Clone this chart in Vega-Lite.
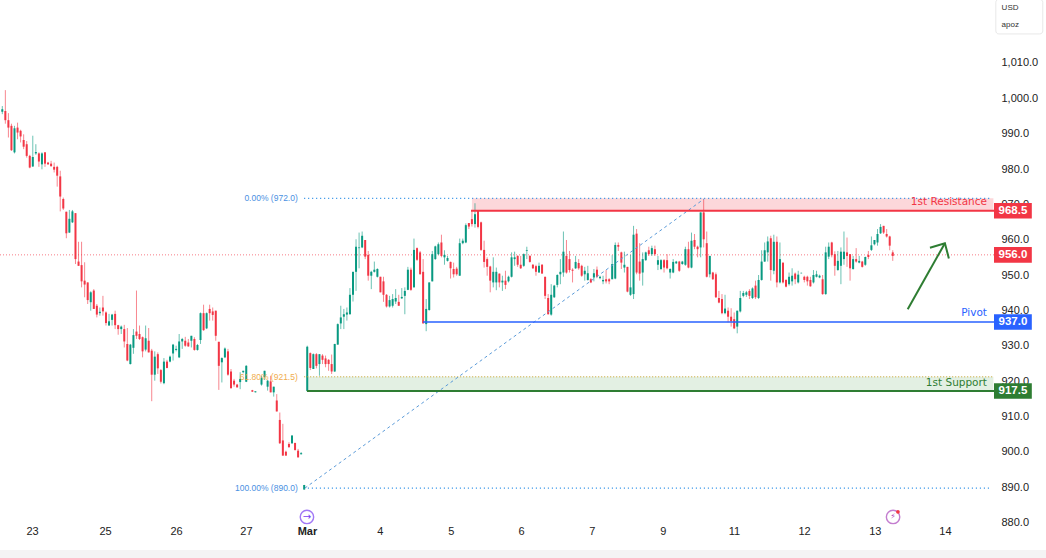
{"$schema":"https://vega.github.io/schema/vega-lite/v6.json","width":994,"height":550,"autosize":{"type":"none"},"padding":{"left":0,"top":0,"right":52,"bottom":8},"background":"#ffffff","config":{"view":{"stroke":null},"text":{"font":"Liberation Sans"}},
"datasets":{"candles":[
{"t":0,"h":998.1,"o":996.5,"c":997.2,"l":995.8},{"t":1,"h":1002.6,"o":996.7,"c":994.1,"l":993.1},{"t":2,"h":996.1,"o":994.1,"c":992,"l":989.2},{"t":3,"h":993.1,"o":992.5,"c":985.6,"l":985.4},{"t":4,"h":992.5,"o":985,"c":991.8,"l":984.7},{"t":5,"h":993.4,"o":992,"c":990.6,"l":988.7},{"t":6,"h":991.4,"o":991.1,"c":989.5,"l":987.8},{"t":7,"h":990.1,"o":988.5,"c":986.6,"l":985.9},{"t":8,"h":988.2,"o":987.3,"c":984,"l":983.5},{"t":9,"h":984.3,"o":984,"c":980.7,"l":980.5},
{"t":10,"h":989.7,"o":981,"c":983.7,"l":980.9},{"t":11,"h":987.3,"o":984.7,"c":985.1,"l":984.3},{"t":12,"h":985,"o":984.7,"c":982.4,"l":980.9},{"t":13,"h":985,"o":981.6,"c":984.7,"l":980.2},{"t":14,"h":985.1,"o":985,"c":981.8,"l":980.9},{"t":15,"h":982.3,"o":982.1,"c":981.6,"l":981.5},{"t":16,"h":982.6,"o":981.8,"c":981.1,"l":980.9},{"t":17,"h":982.1,"o":980.9,"c":980.1,"l":979.3},{"t":18,"h":981.2,"o":980.9,"c":978.4,"l":975.3},{"t":19,"h":979.8,"o":978.2,"c":972.5,"l":968.3},
{"t":20,"h":972.2,"o":971.8,"c":969.1,"l":968.7},{"t":21,"h":968.2,"o":968.2,"c":962.1,"l":960.7},{"t":22,"h":968.7,"o":962.3,"c":966.2,"l":962.2},{"t":23,"h":968.7,"o":965.2,"c":968.3,"l":965},{"t":24,"h":967.8,"o":967.8,"c":954.8,"l":953.4},{"t":25,"h":959.7,"o":954.1,"c":952.9,"l":952.9},{"t":26,"h":959.7,"o":953.1,"c":948.5,"l":946.8},{"t":27,"h":953.9,"o":948.7,"c":947.6,"l":944},{"t":28,"h":948.2,"o":948.2,"c":943.2,"l":942.1},{"t":29,"h":945.7,"o":942.6,"c":945.4,"l":940.2},
{"t":30,"h":946.3,"o":945.9,"c":940.7,"l":940.7},{"t":31,"h":942.1,"o":941.6,"c":939.1,"l":938.3},{"t":32,"h":941.1,"o":939.5,"c":939.9,"l":938.8},{"t":33,"h":944.4,"o":941.1,"c":940,"l":938.8},{"t":34,"h":940,"o":939.7,"c":936.7,"l":936},{"t":35,"h":939.3,"o":936,"c":937.2,"l":936},{"t":36,"h":939.3,"o":937.6,"c":939.1,"l":936},{"t":37,"h":940.2,"o":939.3,"c":936.1,"l":935},{"t":38,"h":936.2,"o":936.1,"c":935,"l":933.4},{"t":39,"h":936,"o":935,"c":935.7,"l":933.6},
{"t":40,"h":936.2,"o":935,"c":931.5,"l":929.8},{"t":41,"h":935.3,"o":930.8,"c":926.1,"l":925.9},{"t":42,"h":930.8,"o":925.1,"c":930.6,"l":925},{"t":43,"h":935,"o":929.7,"c":933.3,"l":928},{"t":44,"h":945.9,"o":934.3,"c":933.1,"l":932.2},{"t":45,"h":936,"o":933.6,"c":932.2,"l":931.9},{"t":46,"h":932.9,"o":932.7,"c":928.7,"l":927},{"t":47,"h":936,"o":929.2,"c":932.4,"l":928.7},{"t":48,"h":935.3,"o":931.7,"c":928.4,"l":928.4},{"t":49,"h":929.4,"o":928.9,"c":922.1,"l":914.6},
{"t":50,"h":928.7,"o":922.1,"c":927.2,"l":920.4},{"t":51,"h":928.4,"o":927.9,"c":923.9,"l":922.3},{"t":52,"h":923.7,"o":923.4,"c":920.1,"l":919.6},{"t":53,"h":926.8,"o":919.7,"c":925.8,"l":919.4},{"t":54,"h":926.3,"o":925.8,"c":924,"l":923.9},{"t":55,"h":927.5,"o":925.8,"c":927.2,"l":925.6},{"t":56,"h":930.8,"o":928.1,"c":930.6,"l":926.1},{"t":57,"h":930.3,"o":929.1,"c":929.4,"l":928.7},{"t":58,"h":933.6,"o":927,"c":931.5,"l":926.8},{"t":59,"h":932.5,"o":931.5,"c":932.2,"l":929.4},
{"t":60,"h":932.8,"o":931.7,"c":930.3,"l":930},{"t":61,"h":932.2,"o":931.2,"c":930.1,"l":930},{"t":62,"h":933.1,"o":931.7,"c":933.1,"l":929.8},{"t":63,"h":932.7,"o":932.2,"c":929.1,"l":928.9},{"t":64,"h":930.8,"o":929.1,"c":930.5,"l":928.9},{"t":65,"h":939.7,"o":931.9,"c":939.5,"l":930.8},{"t":66,"h":941.9,"o":939.5,"c":934.7,"l":934.5},{"t":67,"h":939.7,"o":935.2,"c":939.5,"l":935},{"t":68,"h":941.9,"o":940.7,"c":939.5,"l":937.4},{"t":69,"h":941.1,"o":940,"c":939,"l":937.4},
{"t":70,"h":940.2,"o":940.2,"c":933.1,"l":931.7},{"t":71,"h":931.4,"o":931.4,"c":924.6,"l":917.8},{"t":72,"h":927,"o":925.6,"c":926.8,"l":919.9},{"t":73,"h":929.8,"o":927,"c":929.5,"l":926.8},{"t":74,"h":929.4,"o":928.7,"c":922.1,"l":921.8},{"t":75,"h":923.7,"o":923,"c":918.3,"l":918.1},{"t":76,"h":920.9,"o":920.4,"c":919.3,"l":918.7},{"t":77,"h":919.5,"o":919.3,"c":918.5,"l":918.5},{"t":78,"h":922.8,"o":920,"c":920.9,"l":918},{"t":79,"h":923.2,"o":922.8,"c":923.2,"l":922.5},
{"t":80,"h":924.8,"o":920.1,"c":924.6,"l":920},{"t":82,"h":917.8,"o":917.7,"c":917.3,"l":917.2},{"t":83,"h":917.4,"o":917.1,"c":917.4,"l":917.1},{"t":85,"h":921.8,"o":919.3,"c":921.2,"l":919},{"t":86,"h":923.2,"o":921.4,"c":923.2,"l":920.6},{"t":87,"h":920.6,"o":918.7,"c":920.4,"l":917.6},{"t":88,"h":921.8,"o":920.2,"c":917.1,"l":917.1},{"t":89,"h":918.7,"o":917.1,"c":918.7,"l":915.9},
{"t":90,"h":916.6,"o":914.8,"c":911.7,"l":911.7},{"t":91,"h":911.4,"o":909.3,"c":902.7,"l":902.5},{"t":92,"h":908.2,"o":903.5,"c":899.2,"l":899.2},{"t":93,"h":900.6,"o":900.3,"c":899.2,"l":899.2},{"t":94,"h":903,"o":902.5,"c":901.6,"l":901.4},{"t":95,"h":904.9,"o":902.7,"c":904.9,"l":902.5},{"t":96,"h":902.8,"o":902.8,"c":900.8,"l":900.6},{"t":97,"h":901.1,"o":900.6,"c":898.7,"l":898.7},{"t":98,"h":900.2,"o":899.6,"c":899.9,"l":899.5},{"t":99,"h":890.9,"o":889.6,"c":890.9,"l":889.6},
{"t":100,"h":930.3,"o":917.5,"c":930,"l":917.5},{"t":101,"h":928.4,"o":928.2,"c":924,"l":923.4},{"t":102,"h":928.1,"o":923.7,"c":927.9,"l":923.7},{"t":103,"h":928.2,"o":927.9,"c":924.6,"l":923.9},{"t":104,"h":927.9,"o":925.1,"c":927.9,"l":921.8},{"t":105,"h":927.9,"o":927.5,"c":926.3,"l":925.1},{"t":106,"h":927.5,"o":926.7,"c":925.1,"l":924.2},{"t":107,"h":926.5,"o":926.3,"c":925.1,"l":923.2},{"t":108,"h":927.8,"o":925.1,"c":923,"l":922.3},{"t":109,"h":930.8,"o":923,"c":930.8,"l":922.9},
{"t":110,"h":936.6,"o":930.6,"c":936.4,"l":930.6},{"t":111,"h":941.6,"o":936.6,"c":938.3,"l":935},{"t":112,"h":940.7,"o":938.5,"c":939.2,"l":935},{"t":113,"h":941.1,"o":939.1,"c":939.7,"l":937.4},{"t":114,"h":946.6,"o":939.2,"c":944.7,"l":939.1},{"t":115,"h":951.2,"o":944.7,"c":951.2,"l":942.8},{"t":116,"h":960.4,"o":951.2,"c":958.3,"l":945.8},{"t":117,"h":962.3,"o":957.9,"c":958.1,"l":952.2},{"t":118,"h":962.6,"o":958.1,"c":961.4,"l":957.9},{"t":119,"h":960.2,"o":960.2,"c":955.5,"l":954.8},
{"t":120,"h":957.1,"o":956,"c":950.1,"l":948.7},{"t":121,"h":951.5,"o":950.1,"c":951.2,"l":946.3},{"t":122,"h":954.1,"o":951.2,"c":951.8,"l":951},{"t":123,"h":952.2,"o":949.8,"c":952,"l":949.6},{"t":124,"h":949.8,"o":949.8,"c":945.4,"l":945.4},{"t":125,"h":949.8,"o":948.5,"c":944.7,"l":942.7},{"t":126,"h":944.9,"o":944.7,"c":941.4,"l":941.1},{"t":127,"h":944.4,"o":941.4,"c":943.2,"l":941.1},{"t":128,"h":944.9,"o":941.6,"c":943.5,"l":941.1},{"t":129,"h":946.3,"o":942.8,"c":943.8,"l":942.1},
{"t":130,"h":944.7,"o":942.7,"c":941.6,"l":941.6},{"t":131,"h":946.6,"o":943.7,"c":944.1,"l":943.5},{"t":132,"h":946.8,"o":944.4,"c":945.8,"l":939.2},{"t":133,"h":952.6,"o":946.1,"c":951.8,"l":946},{"t":134,"h":952.4,"o":951.8,"c":946.1,"l":945.8},{"t":135,"h":960.6,"o":946.8,"c":957.4,"l":946.8},{"t":136,"h":958.1,"o":957.9,"c":954.6,"l":954.3},{"t":137,"h":957.1,"o":956.7,"c":950.5,"l":950.5},{"t":138,"h":954.8,"o":951.2,"c":936.6,"l":936.6},{"t":139,"h":943.5,"o":936.4,"c":940.7,"l":934.4},
{"t":140,"h":948.2,"o":940.4,"c":948.2,"l":940.2},{"t":141,"h":957.1,"o":948.5,"c":956.2,"l":948.5},{"t":142,"h":958.6,"o":954.8,"c":958.4,"l":954.6},{"t":143,"h":959.5,"o":956.2,"c":959,"l":955.9},{"t":144,"h":961.7,"o":959.5,"c":955.7,"l":955.3},{"t":145,"h":957.3,"o":955.3,"c":956,"l":953.2},{"t":146,"h":955.7,"o":954.3,"c":955.1,"l":954.1},{"t":147,"h":954.1,"o":954,"c":952.2,"l":949.3},{"t":148,"h":953.8,"o":952,"c":950.5,"l":949.6},{"t":149,"h":952.6,"o":952.1,"c":950.5,"l":950.1},
{"t":150,"h":960.6,"o":950.1,"c":959.3,"l":950.1},{"t":151,"h":960.6,"o":959.3,"c":960,"l":959},{"t":152,"h":964.9,"o":959.5,"c":964.4,"l":959.3},{"t":153,"h":965,"o":965,"c":964,"l":963.3},{"t":154,"h":968.4,"o":966.1,"c":964.7,"l":964},{"t":155,"h":970.6,"o":964.7,"c":967.5,"l":963.7},{"t":156,"h":968.6,"o":968.5,"c":963.9,"l":963.5},{"t":157,"h":965.4,"o":965.2,"c":957.4,"l":957.1},{"t":158,"h":960,"o":957.4,"c":954,"l":952.4},{"t":159,"h":955.3,"o":954.8,"c":952.6,"l":950.1},
{"t":160,"h":952.9,"o":952.7,"c":948.7,"l":945.4},{"t":161,"h":955.3,"o":948.2,"c":951.2,"l":946.8},{"t":162,"h":952.4,"o":948.2,"c":951.2,"l":946},{"t":163,"h":950.7,"o":950.7,"c":948.2,"l":946.8},{"t":164,"h":950.1,"o":948.2,"c":948.7,"l":945.8},{"t":165,"h":951.5,"o":948.7,"c":947.5,"l":946.3},{"t":166,"h":950.1,"o":948.5,"c":949.8,"l":948.2},{"t":167,"h":956.7,"o":949.8,"c":955.3,"l":949.6},{"t":168,"h":956.9,"o":954.8,"c":955.3,"l":952.9},{"t":169,"h":955.9,"o":955.7,"c":953.2,"l":952.6},
{"t":170,"h":955.7,"o":953.2,"c":952.2,"l":952},{"t":171,"h":956.4,"o":952.9,"c":956.2,"l":952.6},{"t":172,"h":958.3,"o":957.1,"c":957.3,"l":954.8},{"t":173,"h":955.9,"o":955.7,"c":954,"l":953.8},{"t":174,"h":953.4,"o":953.2,"c":952.2,"l":952},{"t":175,"h":953.2,"o":952.8,"c":951.2,"l":950.1},{"t":176,"h":953.8,"o":951,"c":952.9,"l":951},{"t":177,"h":953.4,"o":953.2,"c":950.7,"l":950.7},{"t":178,"h":949.8,"o":949.8,"c":944.4,"l":943.5},{"t":179,"h":944.9,"o":943.8,"c":939.2,"l":939.1},
{"t":180,"h":947.7,"o":939.1,"c":944.7,"l":938.8},{"t":181,"h":947.5,"o":944,"c":947.3,"l":943.8},{"t":182,"h":950.5,"o":947.5,"c":950.3,"l":946.8},{"t":183,"h":954.8,"o":950.5,"c":951.2,"l":947.7},{"t":184,"h":962.6,"o":951,"c":956.9,"l":949.8},{"t":185,"h":960.2,"o":955.7,"c":951,"l":950.7},{"t":186,"h":957.1,"o":954.8,"c":951.7,"l":951},{"t":187,"h":952.2,"o":951.8,"c":951.5,"l":948.2},{"t":188,"h":955.7,"o":952.2,"c":954,"l":952},{"t":189,"h":954.8,"o":953.7,"c":952.2,"l":951.8},
{"t":190,"h":953.2,"o":952.9,"c":950.1,"l":949.8},{"t":191,"h":952.6,"o":950.5,"c":951.5,"l":948.7},{"t":192,"h":952.9,"o":948.9,"c":950.8,"l":948.7},{"t":193,"h":949.4,"o":949.1,"c":948.2,"l":948},{"t":194,"h":952,"o":949.6,"c":950.8,"l":948.5},{"t":195,"h":952.7,"o":951.8,"c":949.8,"l":949.4},{"t":196,"h":950.1,"o":949.4,"c":949.8,"l":949.1},{"t":197,"h":950.1,"o":948.5,"c":948.9,"l":947.7},{"t":198,"h":951.7,"o":949.1,"c":948.5,"l":947.9},{"t":199,"h":949.4,"o":949.1,"c":948.5,"l":947.7},
{"t":200,"h":955.9,"o":949.1,"c":953.4,"l":949.1},{"t":201,"h":959.5,"o":949.3,"c":958.8,"l":949.1},{"t":202,"h":959.5,"o":958.8,"c":958.3,"l":957.1},{"t":203,"h":956.9,"o":956.7,"c":953.8,"l":952},{"t":204,"h":956.9,"o":952.4,"c":953.2,"l":951},{"t":205,"h":952.6,"o":952.6,"c":945.6,"l":945.4},{"t":206,"h":956,"o":944.7,"c":946.8,"l":944.4},{"t":207,"h":964.2,"o":944.9,"c":961.7,"l":943.5},{"t":208,"h":963.3,"o":962,"c":951,"l":950.5},{"t":209,"h":959.3,"o":954.1,"c":950.7,"l":948.7},
{"t":210,"h":956.7,"o":951,"c":954.8,"l":947.3},{"t":211,"h":956.9,"o":954.5,"c":956.7,"l":954.3},{"t":212,"h":958.3,"o":957.3,"c":956.2,"l":955.7},{"t":213,"h":958.6,"o":956.2,"c":957.9,"l":955.7},{"t":214,"h":958.6,"o":957.6,"c":956.2,"l":955.7},{"t":215,"h":955.7,"o":953.2,"c":954.5,"l":951.7},{"t":216,"h":954.8,"o":952,"c":954.5,"l":951.7},{"t":217,"h":954.8,"o":954.5,"c":952.4,"l":951},{"t":218,"h":956.2,"o":954.5,"c":952.2,"l":951.9},{"t":219,"h":952.2,"o":951,"c":952,"l":949.3},
{"t":220,"h":954.8,"o":951,"c":954,"l":950.8},{"t":221,"h":954.3,"o":953.6,"c":954.1,"l":953.4},{"t":222,"h":954.3,"o":954.1,"c":951.5,"l":951.2},{"t":223,"h":954.3,"o":953.4,"c":954.1,"l":953.2},{"t":224,"h":958.3,"o":953.2,"c":957.6,"l":952.9},{"t":225,"h":959.7,"o":957.6,"c":952.4,"l":952.2},{"t":226,"h":962.3,"o":952.4,"c":960,"l":952.2},{"t":227,"h":961.9,"o":960.2,"c":958.3,"l":957.6},{"t":228,"h":958.6,"o":958.3,"c":957.6,"l":955.3},{"t":229,"h":968,"o":958.1,"c":968,"l":955.3},
{"t":230,"h":971.7,"o":968,"c":960.4,"l":958.1},{"t":231,"h":962.6,"o":959.3,"c":949.8,"l":949.6},{"t":232,"h":955.7,"o":950.5,"c":955.7,"l":949.6},{"t":233,"h":951.2,"o":951,"c":949.1,"l":948.9},{"t":234,"h":951,"o":950.5,"c":944,"l":943.8},{"t":235,"h":945.8,"o":943.8,"c":942.5,"l":942.3},{"t":236,"h":944.9,"o":943.5,"c":939.5,"l":939.2},{"t":237,"h":944.7,"o":939.5,"c":940.8,"l":939.2},{"t":238,"h":941.1,"o":940.2,"c":938.5,"l":936.9},{"t":239,"h":940.9,"o":938.5,"c":937.2,"l":935.7},
{"t":240,"h":939.7,"o":937.8,"c":935.2,"l":935},{"t":241,"h":940.2,"o":935.7,"c":940.2,"l":933.8},{"t":242,"h":945.8,"o":940,"c":943.8,"l":939.7},{"t":243,"h":945.8,"o":944.4,"c":945.2,"l":944},{"t":244,"h":945.8,"o":944.7,"c":945.4,"l":944.1},{"t":245,"h":946.3,"o":945.8,"c":944.4,"l":943.5},{"t":246,"h":946.8,"o":943.8,"c":946.5,"l":943.5},{"t":247,"h":948.7,"o":947.3,"c":944,"l":943.5},{"t":248,"h":950.3,"o":943.8,"c":948.9,"l":943.5},{"t":249,"h":957.3,"o":948.9,"c":954.1,"l":948.7},
{"t":250,"h":959.5,"o":954.1,"c":957.3,"l":954},{"t":251,"h":961.2,"o":956.7,"c":959.8,"l":954.1},{"t":252,"h":961.4,"o":960.7,"c":951.7,"l":948.7},{"t":253,"h":961.7,"o":951.5,"c":959.7,"l":950.5},{"t":254,"h":961.2,"o":959.7,"c":948.2,"l":946.8},{"t":255,"h":959.5,"o":948.2,"c":954.8,"l":947.9},{"t":256,"h":953.8,"o":953.8,"c":948.2,"l":947.9},{"t":257,"h":949.1,"o":948.9,"c":947,"l":946.8},{"t":258,"h":951,"o":947.7,"c":949.8,"l":947.3},{"t":259,"h":952.2,"o":948.5,"c":950.1,"l":947.3},
{"t":260,"h":951,"o":950.7,"c":949.1,"l":947.7},{"t":261,"h":951.5,"o":948.2,"c":950.4,"l":947.9},{"t":262,"h":951,"o":950.8,"c":950.9,"l":950.7},{"t":263,"h":950.1,"o":949.8,"c":948.9,"l":948.2},{"t":264,"h":950.1,"o":949.8,"c":948.5,"l":947.3},{"t":265,"h":949.8,"o":948.9,"c":947.1,"l":947},{"t":266,"h":951.7,"o":948.2,"c":950.3,"l":947.9},{"t":267,"h":951.5,"o":949.8,"c":950.5,"l":949.6},{"t":268,"h":950.4,"o":949.6,"c":950.1,"l":949.4},{"t":269,"h":950.3,"o":949.1,"c":944.9,"l":944.7},
{"t":270,"h":958.3,"o":944.9,"c":956.7,"l":944.7},{"t":271,"h":959.5,"o":955.5,"c":958.3,"l":954.8},{"t":272,"h":959.7,"o":959.5,"c":955.9,"l":955.3},{"t":273,"h":957,"o":956.2,"c":952.9,"l":950.1},{"t":274,"h":957.1,"o":951.7,"c":954.3,"l":951.5},{"t":275,"h":958.1,"o":952.9,"c":956.9,"l":947.7},{"t":276,"h":962.6,"o":954.8,"c":956.9,"l":953.2},{"t":277,"h":960.9,"o":956.7,"c":955.7,"l":952.6},{"t":278,"h":956.2,"o":956.2,"c":952.2,"l":948.7},{"t":279,"h":955.7,"o":952,"c":954.8,"l":951.8},
{"t":280,"h":957.9,"o":954.8,"c":954.1,"l":953.8},{"t":281,"h":955.7,"o":953.8,"c":954.3,"l":953.6},{"t":282,"h":954.3,"o":954.1,"c":952.6,"l":952.4},{"t":283,"h":955.5,"o":953.2,"c":955.4,"l":952.9},{"t":284,"h":957.1,"o":956,"c":955.4,"l":954.8},{"t":285,"h":961.2,"o":957.4,"c":958.7,"l":957.1},{"t":286,"h":960.2,"o":959,"c":960.2,"l":958.7},{"t":287,"h":963.3,"o":959.5,"c":961.9,"l":958.6},{"t":288,"h":964.7,"o":962.1,"c":963.9,"l":961.9},{"t":289,"h":964.2,"o":964.2,"c":962.3,"l":961.9},
{"t":290,"h":963.3,"o":961.9,"c":961.2,"l":960.9},{"t":291,"h":961.4,"o":961.2,"c":958.6,"l":957.3},{"t":292,"h":957.3,"o":956.7,"c":955.7,"l":954.3}
]},
"encoding":{
"x":{"field":"t","type":"quantitative","scale":{"domain":[-0.754,325.2],"nice":false,"zero":false,"padding":0},"axis":{"title":null,"grid":false,"domain":false,"ticks":false,"orient":"bottom","offset":-20,"labelPadding":1,"labelBaseline":"middle","labelFont":"Liberation Sans","labelFontSize":11,"labelColor":"#222222","labelOverlap":false,"labelFlush":false,"values":[9.74,33.7,57,79.9,99.9,123.8,147.1,170.1,193.3,216.6,239.9,262.9,286.1,309.1],"labelExpr":"['23','25','26','27','Mar','4','5','6','7','9','11','12','13','14'][indexof([9.74,33.7,57,79.9,99.9,123.8,147.1,170.1,193.3,216.6,239.9,262.9,286.1,309.1],datum.value)]","labelFontWeight":{"condition":{"test":"datum.value==99.9","value":"bold"},"value":"normal"}}},
"y":{"field":"p","type":"quantitative","scale":{"domain":[872.5,1028.1],"nice":false,"zero":false},"axis":{"title":null,"orient":"right","grid":false,"domain":false,"ticks":false,"labelPadding":7,"labelFont":"Liberation Sans","labelFontSize":11,"labelColor":"#222222","labelOverlap":false,"labelBaseline":"middle","labelOffset":-1,"format":",.1f","values":[1010,1000,990,980,970,960,950,940,930,920,910,900,890,880]}}
},
"layer":[
{"data":{"values":[{"t":154,"t1":325,"p":972,"p1":968.5}]},"mark":{"type":"rect","color":"#fcd7da"},"encoding":{"x2":{"field":"t1"},"y2":{"field":"p1"}}},
{"data":{"values":[{"t":99.9,"t1":325,"p":921.5,"p1":917.5}]},"mark":{"type":"rect","color":"#e3f0e3"},"encoding":{"x2":{"field":"t1"},"y2":{"field":"p1"}}},
{"data":{"values":[{"t":325.2,"t1":342.2,"p":879,"p1":872.5}]},"mark":{"type":"rect","color":"#ffffff"},"encoding":{"x2":{"field":"t1"},"y2":{"field":"p1"}}},
{"data":{"values":[{"t":-1,"t1":343,"p":872.5,"p1":870}]},"mark":{"type":"rect","color":"#f4f4f4"},"encoding":{"x2":{"field":"t1"},"y2":{"field":"p1"}}},
{"data":{"values":[{"t":-0.754,"t1":325.2,"p":956}]},"mark":{"type":"rule","color":"#f23645","opacity":0.65,"strokeWidth":1,"strokeDash":[1,2]},"encoding":{"x2":{"field":"t1"}}},
{"data":{"name":"candles"},"mark":{"type":"rule","strokeWidth":1,"opacity":0.6},"encoding":{"y":{"field":"h","type":"quantitative","title":null},"y2":{"field":"l"},"color":{"condition":{"test":"datum.c>=datum.o","value":"#089981"},"value":"#f23645"}}},
{"data":{"name":"candles"},"mark":{"type":"bar","size":2},"encoding":{"y":{"field":"o","type":"quantitative","title":null},"y2":{"field":"c"},"color":{"condition":{"test":"datum.c>=datum.o","value":"#089981"},"value":"#f23645"}}},
{"data":{"values":[{"t":99,"t1":324.6,"p":972},{"t":100.2,"t1":323.8,"p":890}]},"mark":{"type":"rule","color":"#1e88e5","strokeWidth":1.3,"strokeDash":[1,3]},"encoding":{"x2":{"field":"t1"}}},
{"data":{"values":[{"t":99,"t1":324.6,"p":921.5}]},"mark":{"type":"rule","color":"#c9a227","strokeWidth":1,"strokeDash":[1,2]},"encoding":{"x2":{"field":"t1"}}},
{"data":{"values":[{"t":99.2,"p":890,"n":1},{"t":230.4,"p":972,"n":2}]},"mark":{"type":"line","color":"#5b9bd9","strokeWidth":1,"strokeDash":[3,3]},"encoding":{"order":{"field":"n"}}},
{"data":{"values":[{"t":153.7,"t1":325.2,"p":968.5}]},"mark":{"type":"rule","color":"#f23645","strokeWidth":2},"encoding":{"x2":{"field":"t1"}}},
{"data":{"values":[{"t":138,"t1":325.2,"p":937}]},"mark":{"type":"rule","color":"#2962ff","strokeWidth":1.6},"encoding":{"x2":{"field":"t1"}}},
{"data":{"values":[{"t":99.9,"t1":325.2,"p":917.5}]},"mark":{"type":"rule","color":"#2e7d32","strokeWidth":2},"encoding":{"x2":{"field":"t1"}}},
{"data":{"values":[{"t":296.9,"p":940.6,"g":"shaft","n":1},{"t":309.1,"p":959.3,"g":"shaft","n":2},{"t":304.2,"p":958,"g":"head","n":1},{"t":309.1,"p":959.3,"g":"head","n":2},{"t":310.4,"p":955,"g":"head","n":3}]},"mark":{"type":"line","color":"#2e7d32","strokeWidth":2},"encoding":{"detail":{"field":"g"},"order":{"field":"n"}}},
{"data":{"values":[{"t":322.9,"p":971,"label":"1st Resistance"}]},"mark":{"type":"text","font":"DejaVu Sans","fontSize":10.5,"align":"right","baseline":"middle","color":"#f23645"},"encoding":{"text":{"field":"label"}}},
{"data":{"values":[{"t":322.9,"p":939.5,"label":"Pivot"}]},"mark":{"type":"text","font":"DejaVu Sans","fontSize":10.5,"align":"right","baseline":"middle","color":"#2962ff"},"encoding":{"text":{"field":"label"}}},
{"data":{"values":[{"t":322.9,"p":919.8,"label":"1st Support"}]},"mark":{"type":"text","font":"DejaVu Sans","fontSize":10.5,"align":"right","baseline":"middle","color":"#2e7d32"},"encoding":{"text":{"field":"label"}}},
{"data":{"values":[{"t":96.9,"p":972,"label":"0.00% (972.0)"},{"t":96.9,"p":890,"label":"100.00% (890.0)"}]},"mark":{"type":"text","fontSize":8.5,"align":"right","baseline":"middle","color":"#4a90e2"},"encoding":{"text":{"field":"label"}}},
{"data":{"values":[{"t":96.9,"p":921.5,"label":"61.80% (921.5)"}]},"mark":{"type":"text","fontSize":8.5,"align":"right","baseline":"middle","color":"#f0ad4e"},"encoding":{"text":{"field":"label"}}},
{"data":{"values":[{"t":325.2,"t1":337.6,"p":970.7,"p1":966.3},{"t":325.2,"t1":337.6,"p":958.2,"p1":953.8}]},"mark":{"type":"rect","color":"#f23645"},"encoding":{"x2":{"field":"t1"},"y2":{"field":"p1"}}},
{"data":{"values":[{"t":325.2,"t1":337.6,"p":939.2,"p1":934.8}]},"mark":{"type":"rect","color":"#2962ff"},"encoding":{"x2":{"field":"t1"},"y2":{"field":"p1"}}},
{"data":{"values":[{"t":325.2,"t1":337.6,"p":919.7,"p1":915.3}]},"mark":{"type":"rect","color":"#2e7d32"},"encoding":{"x2":{"field":"t1"},"y2":{"field":"p1"}}},
{"data":{"values":[{"t":331.4,"p":968.5,"label":"968.5"},{"t":331.4,"p":956,"label":"956.0"},{"t":331.4,"p":937,"label":"937.0"},{"t":331.4,"p":917.5,"label":"917.5"}]},"mark":{"type":"text","fontSize":11.5,"fontWeight":"bold","align":"center","baseline":"middle","color":"#ffffff"},"encoding":{"text":{"field":"label"}}},
{"data":{"values":[{"t":325.8,"t1":341.2,"p":1028.3,"p1":1018.5}]},"mark":{"type":"rect","color":"#ffffff","stroke":"#e8e8e8","strokeWidth":1,"cornerRadius":3},"encoding":{"x2":{"field":"t1"},"y2":{"field":"p1"}}},
{"data":{"values":[{"t":327.7,"p":1025.7,"label":"USD"},{"t":327.7,"p":1021,"label":"apoz"}]},"mark":{"type":"text","fontSize":8,"align":"left","baseline":"middle","color":"#333333"},"encoding":{"text":{"field":"label"}}},
{"data":{"values":[{"t":99.9,"p":881.85}]},"mark":{"type":"point","shape":"circle","size":180,"filled":false,"color":"#7b3ff2","strokeWidth":1.4}},
{"data":{"values":[{"t":99.9,"p":881.85,"label":"→"}]},"mark":{"type":"text","font":"DejaVu Sans","fontSize":10,"align":"center","baseline":"middle","color":"#7b3ff2"},"encoding":{"text":{"field":"label"}}},
{"data":{"values":[{"t":292.1,"p":881.85}]},"mark":{"type":"point","shape":"circle","size":180,"filled":false,"color":"#ab47bc","strokeWidth":1.4}},
{"data":{"values":[{"t":292.1,"p":881.85,"label":"⚡"}]},"mark":{"type":"text","font":"DejaVu Sans","fontSize":8,"align":"center","baseline":"middle","color":"#ab47bc"},"encoding":{"text":{"field":"label"}}},
{"data":{"values":[{"t":293.7,"p":883.3}]},"mark":{"type":"point","shape":"circle","size":14,"filled":true,"opacity":1,"color":"#f23645"}}
]}
